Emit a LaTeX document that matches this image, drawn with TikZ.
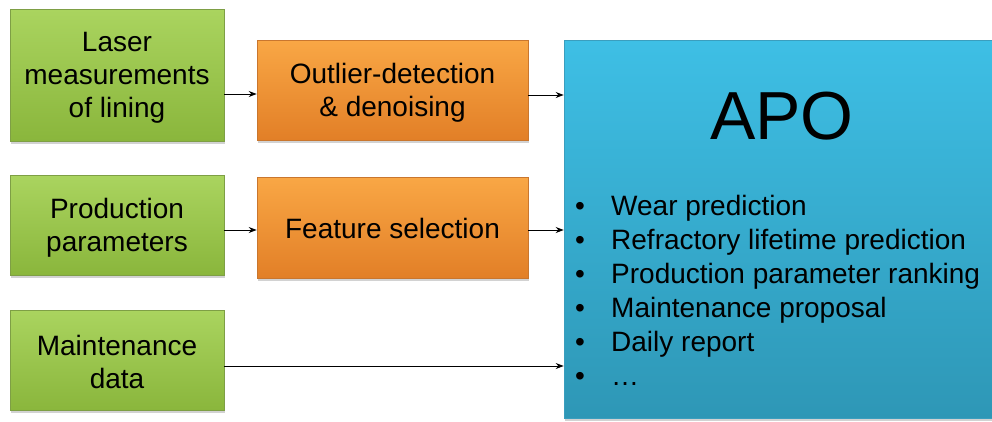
\documentclass[tikz,border=0pt]{standalone}
\usepackage{fontspec}
\setmainfont{Liberation Sans}
\usetikzlibrary{shadows,arrows.meta}
\definecolor{gtop}{HTML}{AAD45F}
\definecolor{gbot}{HTML}{8AB63C}
\definecolor{gedge}{HTML}{7E9F45}
\definecolor{otop}{HTML}{F9A745}
\definecolor{obot}{HTML}{E27F27}
\definecolor{oedge}{HTML}{C9762E}
\definecolor{btop}{HTML}{3EBFE5}
\definecolor{bbot}{HTML}{2E97B6}
\definecolor{bedge}{HTML}{3A9EBE}
\tikzset{
  boxbase/.style={rectangle, draw, line width=0.6pt, inner sep=0pt,
    drop shadow={shadow xshift=1pt, shadow yshift=-3pt, opacity=0.35}},
  gbox/.style={boxbase, top color=gtop, bottom color=gbot, draw=gedge},
  obox/.style={boxbase, top color=otop, bottom color=obot, draw=oedge},
  bbox/.style={boxbase, top color=btop, bottom color=bbot, draw=bedge},
  boxtxt/.style={align=center, inner sep=0pt, font=\fontsize{28}{33}\selectfont},
  arr/.style={-{Stealth[length=8pt,width=6pt]}, line width=1pt, black},
  blt/.style={anchor=base west, inner sep=0pt, font=\fontsize{28}{34}\selectfont},
}
\begin{document}
\begin{tikzpicture}[x=1pt,y=-1pt]
\fill[white] (0,0) rectangle (992,421);
\useasboundingbox (0,0) rectangle (992,421);
\begin{scope}
\clip (0,0) rectangle (992,421);
\node[bbox, minimum width=434pt, minimum height=378pt] (apo) at (781,229) {};
\end{scope}
\node[gbox, minimum width=214pt, minimum height=132pt] (g1) at (117,75) {};
\node[gbox, minimum width=214pt, minimum height=100pt] (g2) at (117,225) {};
\node[gbox, minimum width=214pt, minimum height=100pt] (g3) at (117,360) {};
\node[obox, minimum width=271pt, minimum height=100pt] (o1) at (392.5,90) {};
\node[obox, minimum width=271pt, minimum height=101pt] (o2) at (392.5,227.5) {};
\node[boxtxt] (g1t) at ([yshift=-3pt]g1.center) {Laser\\measurements\\of lining};
\node[boxtxt] (g2t) at ([yshift=-3pt]g2.center) {Production\\parameters};
\node[boxtxt] (g3t) at ([yshift=-2pt]g3.center) {Maintenance\\data};
\node[boxtxt] (o1t) at ([yshift=-3pt]o1.center) {Outlier-detection\\\& denoising};
\node[boxtxt] (o2t) at ([yshift=-1pt]o2.center) {Feature selection};
\node[anchor=base, inner sep=0pt, font=\fontsize{68}{68}\selectfont] (apot) at (782,139) {APO};
\foreach \t [count=\i] in {Wear prediction, Refractory lifetime prediction, Production parameter ranking, Maintenance proposal, Daily report, \dots}{
  \node[blt] (b\i) at (575,{215+34*(\i-1)}) {•};
  \node[blt] (t\i) at (611,{215+34*(\i-1)}) {\t};
}
\draw[arr] (g1.east |- 0,94) -- (o1.west |- 0,94);
\draw[arr] (o1.east |- 0,95) -- (apo.west |- 0,95);
\draw[arr] (g2.east |- 0,230) -- (o2.west |- 0,230);
\draw[arr] (o2.east |- 0,230) -- (apo.west |- 0,230);
\draw[arr] (g3.east |- 0,366) -- (apo.west |- 0,366);
\end{tikzpicture}
\end{document}
